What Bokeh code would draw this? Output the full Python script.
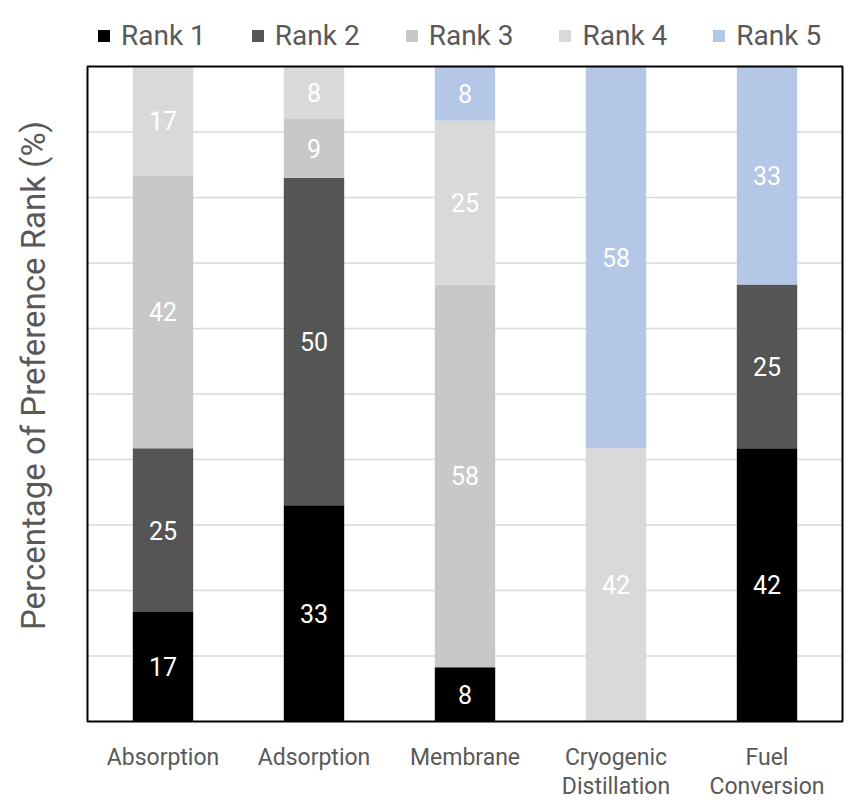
import math
from bokeh.plotting import figure
from bokeh.models import ColumnDataSource, Legend, LegendItem, Range1d
from bokeh.core.properties import value
from bokeh.embed import file_html
from bokeh.resources import INLINE

categories = ["Absorption", "Adsorption", "Membrane", "Cryogenic Distillation", "Fuel Conversion"]
category_line1 = ["Absorption", "Adsorption", "Membrane", "Cryogenic", "Fuel"]
category_line2 = ["", "", "", "Distillation", "Conversion"]
ranks = ["Rank 1", "Rank 2", "Rank 3", "Rank 4", "Rank 5"]
rank1 = [16.7, 33.0, 8.3, 0.0, 41.7]
rank2 = [25.0, 50.0, 0.0, 0.0, 25.0]
rank3 = [41.7, 9.0, 58.4, 0.0, 0.0]
rank4 = [16.6, 8.0, 25.0, 41.7, 0.0]
rank5 = [0.0, 0.0, 8.3, 58.3, 33.3]
colors = ["#000000", "#555555", "#c8c8c8", "#d9d9d9", "#b4c7e7"]
y_ticks = list(range(0, 101, 10))
y_title = "Percentage of Preference Rank (%)"

FONT = "Roboto"
GREY = "#595959"

# canvas / frame geometry (pixels)
W, H = 850, 800
FL, FR, FT, FB = 87, 842, 66, 721
NCAT = len(categories)
YMAX = 100.0
xs = (FR - FL) / NCAT          # px per category
ys = (FB - FT) / YMAX          # px per percent


def px_x(px):
    return (px - FL) / xs


def px_y(py):
    return (FB - py) / ys


series = [rank1, rank2, rank3, rank4, rank5]
xpos = [i + 0.5 for i in range(NCAT)]

p = figure(x_range=Range1d(px_x(0), px_x(W)), y_range=Range1d(px_y(H), px_y(0)),
           output_backend="svg", toolbar_location=None, width=W, height=H,
           min_border=0, outline_line_color=None)
p.xaxis.visible = False
p.yaxis.visible = False
p.grid.visible = False

# horizontal gridlines inside the plot box
gy = y_ticks[1:-1]
p.segment(x0=[0] * len(gy), x1=[NCAT] * len(gy), y0=gy, y1=gy, line_color="#d9d9d9", line_width=1.5)

src = ColumnDataSource(dict(x=xpos, **{r: s for r, s in zip(ranks, series)}))
renderers = p.vbar_stack(ranks, x="x", width=0.4, color=colors, source=src, line_width=0)

# plot box
p.quad(left=[0], right=[NCAT], bottom=[0], top=[YMAX], fill_color=None, line_color="black", line_width=2)

# data labels
lx, ly, lt = [], [], []
base = [0.0] * NCAT
for s in series:
    for i, v in enumerate(s):
        if v > 0:
            lx.append(xpos[i])
            ly.append(base[i] + v / 2)
            lt.append(str(int(round(v))))
        base[i] += v
p.text(x=lx, y=ly, text=lt, text_color="white", text_align="center", text_baseline="middle",
       text_font=value(FONT), text_font_size="25px")

# category labels (two lines)
p.text(x=xpos, y=[px_y(757)] * NCAT, text=category_line1, text_align="center", text_baseline="alphabetic",
       text_font=value(FONT), text_font_size="23px", text_color=GREY)
l2x = [x for x, t in zip(xpos, category_line2) if t]
l2t = [t for t in category_line2 if t]
p.text(x=l2x, y=[px_y(786)] * len(l2x), text=l2t, text_align="center", text_baseline="alphabetic",
       text_font=value(FONT), text_font_size="23px", text_color=GREY)

# y-axis title
p.text(x=[px_x(33)], y=[px_y(375)], text=[y_title], angle=math.pi / 2, text_align="center",
       text_baseline="middle", text_font=value(FONT), text_font_size="33px", text_color=GREY)

legend = Legend(items=[LegendItem(label=r, renderers=[rr]) for r, rr in zip(ranks, renderers)],
                orientation="horizontal", location=(96, H - 52),
                label_text_font=FONT, label_text_font_size="28px", label_text_color=GREY,
                glyph_width=15, glyph_height=15, label_standoff=10, spacing=44,
                border_line_color=None, background_fill_alpha=0, padding=0, margin=0)
p.add_layout(legend, "center")

open("out.html", "w").write(file_html(p, INLINE))
